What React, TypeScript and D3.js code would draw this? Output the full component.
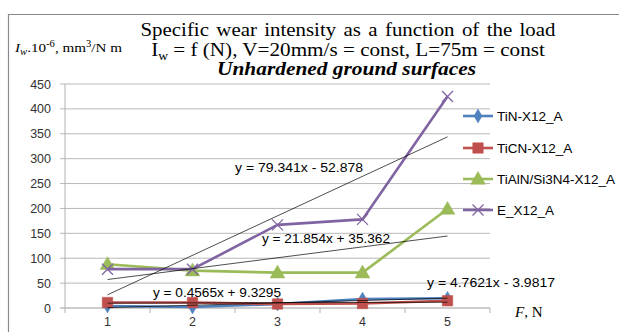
import React from "react";
import * as d3 from "d3";

const categories = [1, 2, 3, 4, 5];
const yTicks = [0, 50, 100, 150, 200, 250, 300, 350, 400, 450];
const seriesNames = ["TiN-X12_A", "TiCN-X12_A", "TiAlN/Si3N4-X12_A", "E_X12_A"];
const tinValues = [4, 2, 8, 18, 19.5];
const ticnValues = [11, 11, 8, 9, 14.5];
const tialnValues = [88, 75, 71, 71, 199];
const eValues = [78, 78, 167, 178, 425];
const trendSlopes = [4.7621, 0.4565, 21.854, 79.341];
const trendIntercepts = [-3.9817, 9.3295, 35.362, -52.878];
const trendLabels = ["y = 4.7621x - 3.9817", "y = 0.4565x + 9.3295", "y = 21.854x + 35.362", "y = 79.341x - 52.878"];
const colors = ["#4F81BD", "#C0504D", "#9BBB59", "#8064A2"];
const markers = ["diamond", "square", "triangle", "x"];

const W = 619;
const H = 332;
const left = 65;
const right = 490;
const top = 84;
const bottom = 308;

function Marker({ kind, cx, cy, color }: { kind: string; cx: number; cy: number; color: string }) {
  if (kind === "x") {
    const r = 5.5;
    return (
      <g stroke={color} strokeWidth={1.3}>
        <line x1={cx - r} y1={cy - r} x2={cx + r} y2={cy + r} />
        <line x1={cx - r} y1={cy + r} x2={cx + r} y2={cy - r} />
      </g>
    );
  }
  const type = kind === "diamond" ? d3.symbolDiamond : kind === "square" ? d3.symbolSquare : d3.symbolTriangle;
  const size = kind === "diamond" ? 55 : kind === "square" ? 110 : 95;
  const path = d3.symbol().type(type).size(size)()!;
  return <path d={path} transform={`translate(${cx},${kind === "triangle" ? cy + 1 : cy})`} fill={color} stroke={color} strokeWidth={0.5} />;
}

export default function App() {
  const x = d3.scaleBand<number>().domain(categories).range([left, right]);
  const cx = (c: number) => (x(c) as number) + x.bandwidth() / 2;
  const y = d3.scaleLinear().domain([0, 450]).range([bottom, top]);
  const allSeries = [tinValues, ticnValues, tialnValues, eValues];
  const line = d3
    .line<number>()
    .x((_, i) => cx(categories[i]))
    .y((v) => y(v));

  const trendLabelPos = [
    { x: 491, y: 287 },
    { x: 217, y: 297 },
    { x: 326, y: 243 },
    { x: 299, y: 172 },
  ];
  const legendY = [116, 148, 179, 210];
  const sans = "'Liberation Sans', Arial, sans-serif";
  const serif = "'Liberation Serif', 'Times New Roman', serif";
  const bounds = [...categories.map((c) => x(c) as number), right];

  return (
    <svg width={W} height={H} style={{ position: "absolute", left: 0, top: 0 }} xmlns="http://www.w3.org/2000/svg">
      <rect x={0} y={0} width={W} height={H} fill="#fff" />
      <path d={`M8.5,${H + 2} V14.5 H${W + 2}`} fill="none" stroke="#8a8a8a" strokeWidth={1.2} />

      {/* title */}
      <g fontFamily={serif} fill="#000" textAnchor="middle">
        <text x={348} y={36} fontSize={19.5} wordSpacing={2} textLength={415} lengthAdjust="spacingAndGlyphs">
          Specific wear intensity as a function of the load
        </text>
        <g transform="translate(348,56) scale(1.085,1)">
          <text x={0} y={0} fontSize={19.5}>
            I<tspan fontSize={12.5} dy={4}>w</tspan>
            <tspan dy={-4}> = f (N), V=20mm/s = const, L=75m = const</tspan>
          </text>
        </g>
        <text x={346.5} y={75} fontSize={19.5} fontWeight="bold" fontStyle="italic" textLength={259} lengthAdjust="spacingAndGlyphs">
          Unhardened ground surfaces
        </text>
      </g>

      {/* y axis title */}
      <g transform="translate(15,52) scale(1.12,1)">
        <text x={0} y={0} fontFamily={serif} fontSize={13.5} fill="#000">
          <tspan fontStyle="italic">I</tspan>
          <tspan fontStyle="italic" fontSize={9.5} dy={3}>w</tspan>
          <tspan dy={-3}>.10</tspan>
          <tspan fontSize={9.5} dy={-5}>-6</tspan>
          <tspan dy={5}>, mm</tspan>
          <tspan fontSize={9.5} dy={-5}>3</tspan>
          <tspan dy={5}>/N m</tspan>
        </text>
      </g>

      {/* grid */}
      <g>
        {yTicks.map((t) => (
          <g key={t}>
            <line x1={60} x2={right} y1={y(t)} y2={y(t)} stroke={t === 0 ? "#9a9a9a" : "#b8b8b8"} strokeWidth={1} />
            <text x={51} y={y(t) + 4.5} textAnchor="end" fontFamily={sans} fontSize={12.5} fill="#333">{t}</text>
          </g>
        ))}
        <line x1={left} x2={left} y1={top} y2={bottom} stroke="#b0b0b0" />
        {bounds.map((b, i) => (
          <line key={i} x1={b} x2={b} y1={bottom} y2={bottom + 5} stroke="#b0b0b0" />
        ))}
        {categories.map((c) => (
          <text key={c} x={cx(c)} y={326} textAnchor="middle" fontFamily={sans} fontSize={12.5} fill="#333">{c}</text>
        ))}
        <text x={515} y={317} fontFamily={serif} fontSize={15} fill="#000">
          <tspan fontStyle="italic">F</tspan>, N
        </text>
      </g>

      {/* series */}
      {allSeries.map((vals, si) => (
        <g key={si}>
          <path d={line(vals)!} fill="none" stroke={colors[si]} strokeWidth={2.6} strokeLinejoin="round" />
          {vals.map((v, i) => (
            <Marker key={i} kind={markers[si]} cx={cx(categories[i])} cy={y(v)} color={colors[si]} />
          ))}
        </g>
      ))}

      {/* trendlines */}
      {trendSlopes.map((m, i) => {
        const x0 = categories[0];
        const x1 = categories[categories.length - 1];
        return (
          <line
            key={i}
            x1={cx(x0)}
            y1={y(m * x0 + trendIntercepts[i])}
            x2={cx(x1)}
            y2={y(m * x1 + trendIntercepts[i])}
            stroke="#000"
            strokeWidth={0.7}
          />
        );
      })}
      {trendLabels.map((l, i) => (
        <text key={i} x={trendLabelPos[i].x} y={trendLabelPos[i].y} textAnchor="middle" fontFamily={sans} fontSize={12.5} fill="#000" textLength={128} lengthAdjust="spacingAndGlyphs">{l}</text>
      ))}

      {/* legend */}
      {seriesNames.map((n, i) => (
        <g key={n}>
          <line x1={463} x2={493} y1={legendY[i]} y2={legendY[i]} stroke={colors[i]} strokeWidth={2.6} />
          <Marker kind={markers[i]} cx={478} cy={legendY[i]} color={colors[i]} />
          <text x={497} y={legendY[i] + 4.5} fontFamily={sans} fontSize={13.5} fill="#000">{n}</text>
        </g>
      ))}
    </svg>
  );
}
